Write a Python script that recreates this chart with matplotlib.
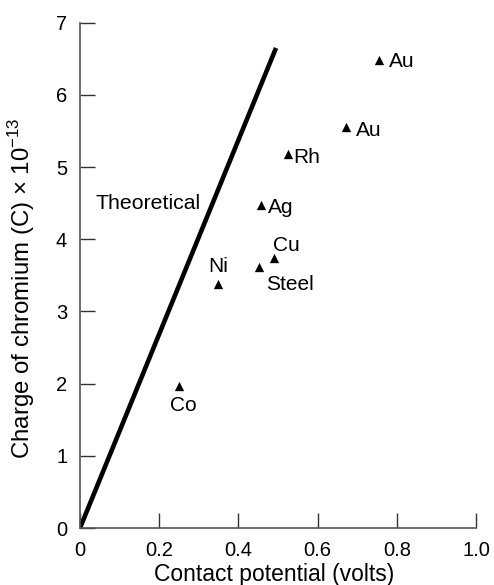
import matplotlib
matplotlib.use("Agg")
import matplotlib.pyplot as plt

plt.rcParams['font.family'] = ['Liberation Sans', 'DejaVu Sans']
plt.rcParams['mathtext.fontset'] = 'custom'
plt.rcParams['mathtext.rm'] = 'Liberation Sans'

# Data
metals = ["Au", "Au", "Rh", "Ag", "Cu", "Steel", "Ni", "Co"]
potential = [0.756, 0.672, 0.524, 0.456, 0.491, 0.453, 0.349, 0.251]
charge = [6.48, 5.55, 5.18, 4.47, 3.74, 3.62, 3.38, 1.97]
theory_x = [0.0, 0.495]
theory_y = [0.0, 6.65]
x_ticks = [0, 0.2, 0.4, 0.6, 0.8, 1.0]
x_tick_labels = ["0", "0.2", "0.4", "0.6", "0.8", "1.0"]
y_ticks = [0, 1, 2, 3, 4, 5, 6, 7]

# label placement (offset in points, alignment)
label_pos = {
    0: ((7, -1), 'left', 'center'),
    1: ((7, -2), 'left', 'center'),
    2: ((4, -2.5), 'left', 'center'),
    3: ((5, -1.5), 'left', 'center'),
    4: ((-1, 9), 'left', 'center'),
    5: ((5, -12.5), 'left', 'center'),
    6: ((0, 12.5), 'center', 'center'),
    7: ((3, -14), 'center', 'center'),
}

fs = 15
fig = plt.figure(figsize=(4.94, 5.85), dpi=100)
ax = fig.add_axes([80/494, 1-528/585, 396/494, (528-22.7)/585])

ax.plot(theory_x, theory_y, color='black', lw=3.3, solid_capstyle='butt')
ax.scatter(potential, charge, marker='^', s=45, color='black', zorder=3,
           linewidths=0)

for i, (name, x, y) in enumerate(zip(metals, potential, charge)):
    off, ha, va = label_pos[i]
    ax.annotate(name, (x, y), xytext=off, textcoords='offset points',
                ha=ha, va=va, fontsize=fs)

ax.text(0.04, 4.49, "Theoretical", fontsize=15.3, ha='left', va='center')

ax.set_xlim(0, 1.0)
ax.set_ylim(0, 7)
ax.set_xticks(x_ticks)
ax.set_xticklabels(x_tick_labels)
ax.set_yticks(y_ticks)
ax.tick_params(direction='in', length=11, width=1, colors='#333333',
               labelcolor='black', labelsize=14.5, pad=9.2)
for s in ['top', 'right']:
    ax.spines[s].set_visible(False)
for s in ['left', 'bottom']:
    ax.spines[s].set_color('#555555')
    ax.spines[s].set_linewidth(1.2)

ax.set_xlabel("Contact potential (volts)", fontsize=16.5)
ax.set_ylabel("Charge of chromium (C) $\\times$ 10$^{-13}$", fontsize=17.3)
ax.xaxis.set_label_coords(0.49, -0.069)
ax.yaxis.set_label_coords(-0.108, 0.474)

fig.savefig("out.png", dpi=100)
